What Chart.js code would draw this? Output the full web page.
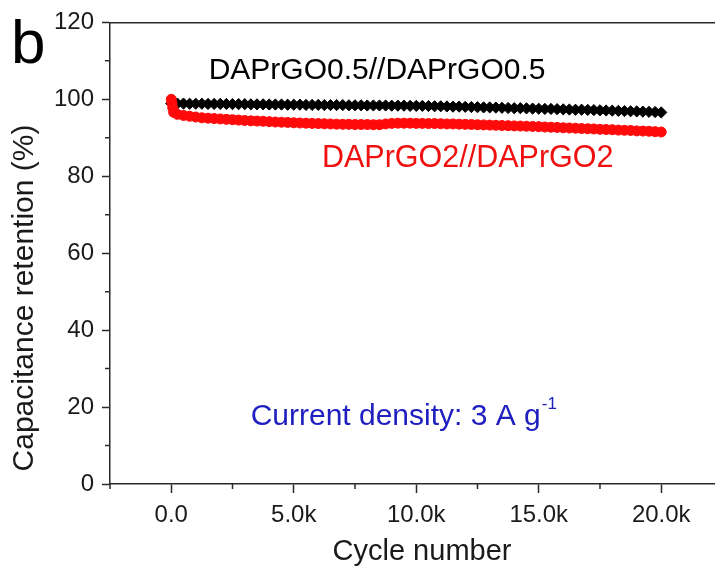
<!DOCTYPE html>
<html>
<head>
<meta charset="utf-8">
<script src="https://cdn.jsdelivr.net/npm/chart.js@4.4.1/dist/chart.umd.min.js"></script>
<style>
html,body{margin:0;padding:0;background:#fff;overflow:hidden;}
#wrap{width:721px;height:573px;}
</style>
</head>
<body>
<div id="wrap"><canvas id="c" width="721" height="573"></canvas></div>
<script>
// ---- data ----
const blackCycles = [
  0,250,500,750,1000,1250,1500,1750,2000,2250,
  2500,2750,3000,3250,3500,3750,4000,4250,4500,4750,
  5000,5250,5500,5750,6000,6250,6500,6750,7000,7250,
  7500,7750,8000,8250,8500,8750,9000,9250,9500,9750,
  10000,10250,10500,10750,11000,11250,11500,11750,12000,12250,
  12500,12750,13000,13250,13500,13750,14000,14250,14500,14750,
  15000,15250,15500,15750,16000,16250,16500,16750,17000,17250,
  17500,17750,18000,18250,18500,18750,19000,19250,19500,19750,
  20000
];
const blackRetention = [
  98.9,98.9,98.9,98.85,98.85,98.85,98.8,98.8,98.8,98.8,
  98.75,98.75,98.75,98.7,98.7,98.7,98.65,98.65,98.65,98.6,
  98.6,98.6,98.55,98.55,98.55,98.5,98.5,98.5,98.5,98.45,
  98.45,98.45,98.4,98.4,98.4,98.4,98.35,98.35,98.35,98.3,
  98.3,98.3,98.25,98.2,98.2,98.15,98.1,98.1,98.05,98.0,
  97.95,97.9,97.9,97.85,97.8,97.75,97.7,97.7,97.65,97.6,
  97.55,97.5,97.5,97.45,97.4,97.35,97.3,97.3,97.25,97.2,
  97.15,97.1,97.05,97.0,96.95,96.9,96.85,96.8,96.75,96.7,
  96.6
];
const redCycles = [
  0,30,60,100,
  250,500,750,1000,1250,1500,1750,2000,2250,2500,
  2750,3000,3250,3500,3750,4000,4250,4500,4750,5000,
  5250,5500,5750,6000,6250,6500,6750,7000,7250,7500,
  7750,8000,8250,8500,8750,9000,9250,9500,9750,10000,
  10250,10500,10750,11000,11250,11500,11750,12000,12250,12500,
  12750,13000,13250,13500,13750,14000,14250,14500,14750,15000,
  15250,15500,15750,16000,16250,16500,16750,17000,17250,17500,
  17750,18000,18250,18500,18750,19000,19250,19500,19750,20000
];
const redRetention = [
  100.0,99.0,97.8,96.6,
  96.1,95.8,95.6,95.4,95.2,95.1,95.0,94.9,94.8,94.7,
  94.6,94.5,94.4,94.35,94.3,94.2,94.1,94.05,94.0,93.9,
  93.85,93.8,93.75,93.7,93.65,93.6,93.55,93.5,93.5,93.45,
  93.45,93.45,93.4,93.4,93.6,93.75,93.8,93.8,93.8,93.75,
  93.75,93.7,93.7,93.65,93.6,93.6,93.55,93.5,93.45,93.4,
  93.35,93.3,93.25,93.2,93.15,93.1,93.05,93.0,92.95,92.9,
  92.8,92.75,92.7,92.6,92.55,92.5,92.4,92.35,92.3,92.2,
  92.15,92.1,92.0,91.95,91.9,91.8,91.75,91.7,91.6,91.5
];
const xMajorTicks = [0,5000,10000,15000,20000];
const xTickLabels = ['0.0','5.0k','10.0k','15.0k','20.0k'];
const xMinorTicks = [-2500,2500,7500,12500,17500];
const yMajorTicks = [0,20,40,60,80,100,120];
const yTickLabels = ['0','20','40','60','80','100','120'];
const yMinorTicks = [10,30,50,70,90,110];
const seriesNames = ['DAPrGO2//DAPrGO2','DAPrGO0.5//DAPrGO0.5'];
const xTitle = 'Cycle number';
const yTitle = 'Capacitance retention (%)';

// ---- chart ----
const FONT = '"Liberation Sans", Arial, Helvetica, sans-serif';
const AX = '#2a2a2a';
const TXT = '#1a1a1a';

const minorTicks = {
  id: 'minorTicks',
  afterDraw(chart) {
    const ctx = chart.ctx;
    const xs = chart.scales.x, ys = chart.scales.y;
    const a = chart.chartArea;
    ctx.save();
    ctx.strokeStyle = AX;
    ctx.lineWidth = 1.5;
    ctx.beginPath();
    xMinorTicks.forEach(v => {
      const px = xs.getPixelForValue(v);
      ctx.moveTo(px, a.bottom); ctx.lineTo(px, a.bottom + 5);
    });
    yMinorTicks.forEach(v => {
      const py = ys.getPixelForValue(v);
      ctx.moveTo(a.left, py); ctx.lineTo(a.left - 5, py);
    });
    ctx.stroke();
    ctx.restore();
  }
};

const labelsPlugin = {
  id: 'labelsPlugin',
  afterDraw(chart) {
    const ctx = chart.ctx;
    const xs = chart.scales.x, ys = chart.scales.y;
    ctx.save();
    ctx.textBaseline = 'middle';
    // axis titles
    ctx.fillStyle = TXT;
    ctx.textAlign = 'center';
    ctx.font = '29px ' + FONT;
    ctx.fillText(xTitle, 422, 552);
    ctx.save();
    ctx.translate(25, 298);
    ctx.rotate(-Math.PI / 2);
    ctx.font = '30px ' + FONT;
    ctx.fillText(yTitle, 0, 0);
    ctx.restore();
    // series labels
    ctx.font = '30px ' + FONT;
    ctx.fillStyle = '#000';
    ctx.textAlign = 'center';
    ctx.fillText(seriesNames[1], xs.getPixelForValue(8400), ys.getPixelForValue(107.4));
    ctx.fillStyle = '#f01010';
    ctx.font = '30.5px ' + FONT;
    ctx.fillText(seriesNames[0], xs.getPixelForValue(12100), ys.getPixelForValue(84.7));
    // current density
    ctx.textAlign = 'left';
    ctx.fillStyle = '#2020c0';
    ctx.font = '30px ' + FONT;
    const cx = xs.getPixelForValue(3240), cy = ys.getPixelForValue(17.4);
    const main = 'Current density: 3 A g';
    ctx.fillText(main, cx, cy);
    const w = ctx.measureText(main).width;
    ctx.font = '17px ' + FONT;
    ctx.fillText('-1', cx + w + 1, cy - 13);
    // panel letter
    ctx.fillStyle = '#000';
    ctx.font = '62px ' + FONT;
    ctx.textBaseline = 'alphabetic';
    ctx.fillText('b', 11, 63);
    ctx.restore();
  }
};

new Chart(document.getElementById('c'), {
  type: 'scatter',
  data: {
    datasets: [
      {
        label: seriesNames[0],
        data: redCycles.map((c, i) => ({x: c, y: redRetention[i]})),
        pointStyle: 'circle',
        pointRadius: 5,
        pointBackgroundColor: '#ff0a0a',
        pointBorderColor: '#ff0a0a',
        pointBorderWidth: 1,
        showLine: false
      },
      {
        label: seriesNames[1],
        data: blackCycles.map((c, i) => ({x: c, y: blackRetention[i]})),
        pointStyle: 'rectRot',
        pointRadius: 5.6,
        pointBackgroundColor: '#000',
        pointBorderColor: '#000',
        pointBorderWidth: 1,
        showLine: false
      }
    ]
  },
  options: {
    responsive: false,
    animation: false,
    devicePixelRatio: 1,
    layout: {padding: {left: 8, top: 22, right: 0, bottom: 6}},
    plugins: {legend: {display: false}, tooltip: {enabled: false}},
    scales: {
      x: {
        type: 'linear',
        position: 'bottom',
        min: -2500,
        max: 22170,
        afterBuildTicks: s => { s.ticks = xMajorTicks.map(v => ({value: v})); },
        afterFit: s => { s.height = 573 - 6 - 484; },
        ticks: {
          color: TXT,
          font: {family: FONT, size: 24},
          padding: 8,
          maxRotation: 0,
          autoSkip: false,
          callback: (v) => { const i = xMajorTicks.indexOf(v); return i >= 0 ? xTickLabels[i] : ''; }
        },
        grid: {drawOnChartArea: false, drawTicks: true, tickLength: 9, tickColor: AX, tickWidth: 1.5},
        border: {display: true, color: AX, width: 1.5},
        title: {display: false}
      },
      x2: {
        type: 'linear',
        position: 'top',
        min: -2500,
        max: 22170,
        afterFit: s => { s.height = 0; },
        ticks: {display: false},
        grid: {display: false, drawTicks: false},
        border: {display: true, color: AX, width: 1.5}
      },
      y: {
        type: 'linear',
        position: 'left',
        min: 0,
        max: 120,
        afterBuildTicks: s => { s.ticks = yMajorTicks.map(v => ({value: v})); },
        afterFit: s => { s.width = 110 - 8; },
        ticks: {
          color: TXT,
          font: {family: FONT, size: 24},
          padding: 8,
          autoSkip: false,
          callback: (v) => { const i = yMajorTicks.indexOf(v); return i >= 0 ? yTickLabels[i] : ''; }
        },
        grid: {drawOnChartArea: false, drawTicks: true, tickLength: 8, tickColor: AX, tickWidth: 1.5},
        border: {display: true, color: AX, width: 1.5},
        title: {display: false}
      }
    }
  },
  plugins: [minorTicks, labelsPlugin]
});
</script>
</body>
</html>
